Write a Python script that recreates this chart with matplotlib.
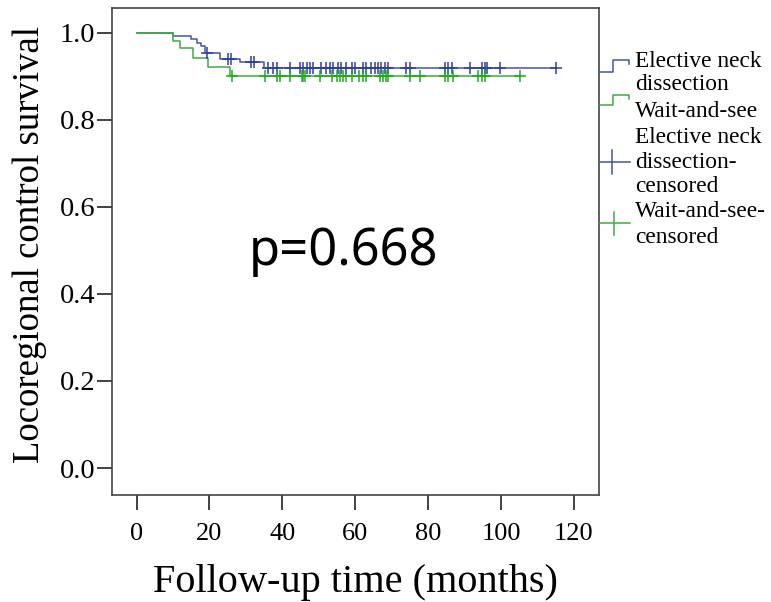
import numpy as np
import matplotlib
matplotlib.use("Agg")
import matplotlib.pyplot as plt
from matplotlib.lines import Line2D

# ---- data ----
blue_event_times = [0, 10, 15, 16.5, 17.6, 18.8, 22.9, 28.5, 35.0]
blue_surv = [1.0, 0.993, 0.986, 0.977, 0.970, 0.954, 0.940, 0.932, 0.920]
blue_end = 115.2
blue_censor_times = [19.3, 25.0, 25.8, 31.5, 32.2, 36.1, 37.5, 38.6, 42.0, 44.8, 45.8,
                     46.8, 47.6, 48.4, 50.7, 52.1, 53.2, 54.0, 55.2, 56.1, 57.5, 59.0,
                     60.0, 62.2, 63.0, 64.2, 65.4, 66.3, 67.2, 68.1, 69.0, 74.0, 75.0,
                     84.6, 85.5, 86.6, 91.5, 94.7, 95.6, 96.1, 99.7, 115.2]

green_event_times = [0, 9.9, 11.9, 15.6, 19.7, 25.6]
green_surv = [1.0, 0.982, 0.966, 0.943, 0.921, 0.900]
green_end = 105.2
green_censor_times = [26.1, 35.2, 38.4, 39.3, 42.1, 45.3, 45.7, 46.2, 50.3, 53.5, 54.9,
                      55.8, 56.7, 57.6, 59.0, 60.9, 62.2, 63.0, 66.8, 67.7, 68.5, 69.1,
                      75.0, 77.8, 84.6, 85.5, 86.9, 93.8, 94.7, 95.6, 105.2]

x_ticks = [0, 20, 40, 60, 80, 100, 120]
y_ticks = [0.0, 0.2, 0.4, 0.6, 0.8, 1.0]
legend_labels = ["Elective neck\ndissection", "Wait-and-see",
                 "Elective neck\ndissection-\ncensored", "Wait-and-see-\ncensored"]
p_text = "p=0.668"
xlabel = "Follow-up time (months)"
ylabel = "Locoregional control survival"

BLUE = "#47539f"
GREEN = "#3cae3c"
BLUE_M = "#2f3f9a"
GREEN_M = "#22a822"
SERIF = "Liberation Serif"

W, H = 771, 602
fig = plt.figure(figsize=(W / 100, H / 100), dpi=100)
ax = fig.add_axes([112 / W, 1 - 495 / H, 487 / W, 487 / H])


def level_at(times, surv, t):
    idx = np.searchsorted(np.asarray(times), t, side="right") - 1
    return np.asarray(surv)[idx]


for times, surv, end, ctimes, lc, mc in [
    (blue_event_times, blue_surv, blue_end, blue_censor_times, BLUE, BLUE_M),
    (green_event_times, green_surv, green_end, green_censor_times, GREEN, GREEN_M),
]:
    xs = list(times) + [end]
    ys = list(surv) + [surv[-1]]
    ax.step(xs, ys, where="post", color=lc, lw=1.1, zorder=2)
    cy = level_at(times, surv, ctimes)
    ax.plot(ctimes, cy, ls="none", marker="+", ms=8, mew=1.1, color=mc, zorder=3)

ax.set_xlim(-6.75, 126.9)
ax.set_ylim(-0.062, 1.057)
ax.set_xticks(x_ticks)
ax.set_xticklabels([str(v) for v in x_ticks], fontfamily=SERIF, fontsize=19)
ax.set_yticks(y_ticks)
ax.set_yticklabels([f"{v:.1f}" for v in y_ticks], fontfamily=SERIF, fontsize=20.5)
ax.tick_params(axis="both", direction="out", length=11, width=1.3, color="#333333")
ax.tick_params(axis="x", pad=9)
ax.tick_params(axis="y", pad=1)
for s in ax.spines.values():
    s.set_color("#444444")
    s.set_linewidth(1.2)

ax.set_xlabel(xlabel, fontfamily=SERIF, fontsize=29, labelpad=14)
ax.set_ylabel(ylabel, fontfamily=SERIF, fontsize=26.5)
ax.yaxis.set_label_coords(-0.134, 0.515)

ax.text(56.8, 0.467, p_text, fontfamily="Noto Sans", fontsize=36.5,
        ha="center", va="baseline")


# ---- legend drawn manually to the right of the axes ----
def P(x, y):
    return (x / W, 1 - y / H)


def fig_line(xs, ys, color, lw=1.1):
    pts = [P(x, y) for x, y in zip(xs, ys)]
    fig.add_artist(Line2D([p[0] for p in pts], [p[1] for p in pts],
                          transform=fig.transFigure, color=color, lw=lw))


fig_line([600, 613, 613, 629, 629], [72, 72, 60, 60, 64], BLUE)
fig_line([600, 613, 613, 629, 629], [105, 105, 95, 95, 99], GREEN)
fig_line([600, 630], [162, 162], BLUE)
fig_line([612, 612], [150, 174], BLUE)
fig_line([600, 630], [223, 223], GREEN)
fig_line([614, 614], [212, 235], GREEN)

baselines = [[67, 90], [117], [143, 168, 192], [217, 243]]
for lab, bls in zip(legend_labels, baselines):
    for line, by in zip(lab.split("\n"), bls):
        fig.text(*P(635, by), line, fontfamily=SERIF, fontsize=16.8,
                 ha="left", va="baseline")

fig.savefig("out.png", dpi=100)
